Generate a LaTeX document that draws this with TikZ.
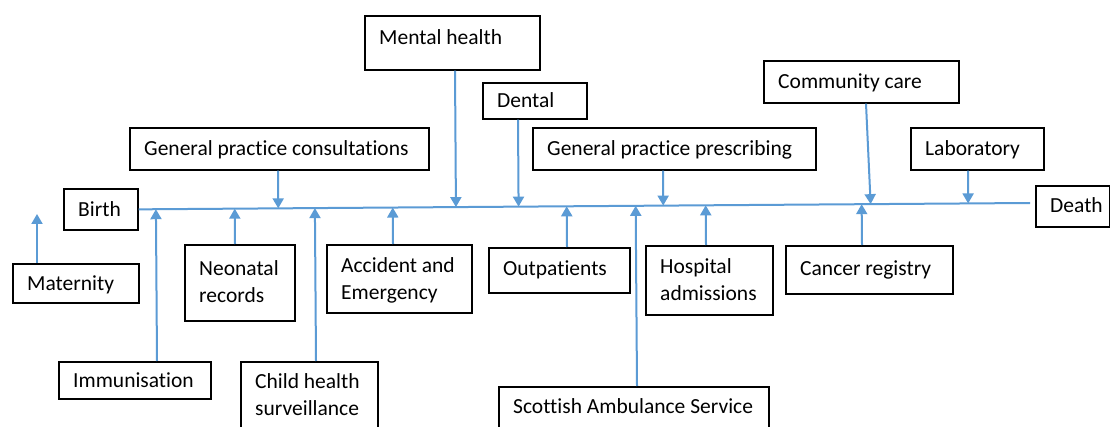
\documentclass[tikz,border=0pt]{standalone}
\usepackage{fontspec}
\setmainfont[Ligatures=NoCommon]{Carlito}
\usetikzlibrary{arrows.meta,calc}
\definecolor{tlblue}{HTML}{5B9BD5}
\begin{document}
\begin{tikzpicture}[x=1pt,y=-1pt,
  box/.style 2 args={draw=black,line width=1.7pt,rectangle,inner sep=0pt,anchor=north west,minimum width=#1,minimum height=#2},
  lbl/.style={anchor=west,inner sep=0pt,align=left,font=\fontsize{21.5}{27}\selectfont},
  arr/.style={draw=tlblue,line width=2pt,-{Triangle[length=10pt,width=11pt]}},
  tl/.style={draw=tlblue,line width=2pt}]
\useasboundingbox (0,0) rectangle (1110,427);
\fill[white] (0,0) rectangle (1110,427);

% boxes
\node[box={74pt}{41pt}]  (birth)  at (63,188) {};
\node[box={126pt}{39pt}] (mat)    at (12,263) {};
\node[box={299pt}{42pt}] (gpc)    at (129,127) {};
\node[box={175pt}{54pt}] (mh)     at (364,15) {};
\node[box={104pt}{36pt}] (dental) at (482,82) {};
\node[box={283pt}{42pt}] (gpp)    at (532,127) {};
\node[box={195pt}{42pt}] (cc)     at (763,60) {};
\node[box={133pt}{42pt}] (lab)    at (910,127) {};
\node[box={74pt}{41pt}]  (death)  at (1035,185) {};
\node[box={110pt}{76pt}] (neo)    at (184,244) {};
\node[box={152pt}{37pt}] (imm)    at (58,361) {};
\node[box={137pt}{70pt}] (child)  at (240,361) {};
\node[box={145pt}{68pt}] (ae)     at (326,244) {};
\node[box={141pt}{45pt}] (outp)   at (488,247) {};
\node[box={127pt}{69pt}] (hosp)   at (645,245) {};
\node[box={167pt}{48pt}] (cancer) at (785,245) {};
\node[box={270pt}{43pt}] (amb)    at (498,386) {};

% labels
\node[lbl] (t-birth)  at ([xshift=15pt,yshift=-1.5pt]birth.west)  {\strut Birth};
\node[lbl] (t-mat)    at ([xshift=15pt,yshift=-2pt]mat.west)    {\strut Maternity};
\node[lbl] (t-gpc)    at ([xshift=15pt,yshift=-1pt]gpc.west)    {\strut General practice consultations};
\node[lbl] (t-mh)     at ([xshift=15pt,yshift=4pt]mh.west) {\strut Mental health};
\node[lbl] (t-dental) at ([xshift=15pt,yshift=-1pt]dental.west) {\strut Dental};
\node[lbl] (t-gpp)    at ([xshift=15pt,yshift=-1pt]gpp.west)    {\strut General practice prescribing};
\node[lbl] (t-cc)     at ([xshift=15pt,yshift=-1pt]cc.west)     {\strut Community care};
\node[lbl] (t-lab)    at ([xshift=15pt,yshift=-1pt]lab.west)    {\strut Laboratory};
\node[lbl] (t-death)  at ([xshift=15pt,yshift=-1pt]death.west)  {\strut Death};
\node[lbl] (t-neo)    at ([xshift=15pt,yshift=-1pt]neo.west)    {\strut Neonatal\\\strut records};
\node[lbl] (t-imm)    at ([xshift=15pt,yshift=-2pt]imm.west)    {\strut Immunisation};
\node[lbl] (t-child)  at ([xshift=15pt]child.west)  {\strut Child health\\\strut surveillance};
\node[lbl] (t-ae)     at ([xshift=15pt,yshift=-1.5pt]ae.west)     {\strut Accident and\\\strut Emergency};
\node[lbl] (t-outp)   at ([xshift=15pt]outp.west)   {\strut Outpatients};
\node[lbl] (t-hosp)   at ([xshift=15pt,yshift=-1pt]hosp.west)   {\strut Hospital\\\strut admissions};
\node[lbl] (t-cancer) at ([xshift=15pt]cancer.west) {\strut Cancer registry};
\node[lbl] (t-amb)    at ([xshift=15pt]amb.west)    {\strut Scottish Ambulance Service};

% timeline
\coordinate (tlend) at (1030,203);
\draw[tl] (birth.east) -- (tlend);

% arrows from below
\foreach \b/\dx in {imm/99,neo/51,child/76,ae/67,outp/79,amb/139,hosp/61,cancer/77}{
  \path (\b.north west) ++(\dx,0) coordinate (s-\b);
  \draw[arr] (s-\b) -- ($(birth.east)!(s-\b)!(tlend)$);
}
% arrows from above
\foreach \b/\dx in {gpc/149,mh/91,dental/36,gpp/131,lab/58}{
  \path (\b.south west) ++(\dx,0) coordinate (s-\b);
  \draw[arr] (s-\b) -- ($(birth.east)!(s-\b)!(tlend)$);
}
% community care (slightly slanted)
\path (cc.south west) ++(103,0) coordinate (s-cc);
\path (s-cc) ++(4,0) coordinate (p-cc);
\draw[arr] (s-cc) -- ($(birth.east)!(p-cc)!(tlend)$);
% maternity (stops short of the line)
\path (mat.north west) ++(25,0) coordinate (s-mat);
\path (s-mat) ++(0,-49) coordinate (e-mat);
\draw[arr] (s-mat) -- (e-mat);
\end{tikzpicture}
\end{document}
